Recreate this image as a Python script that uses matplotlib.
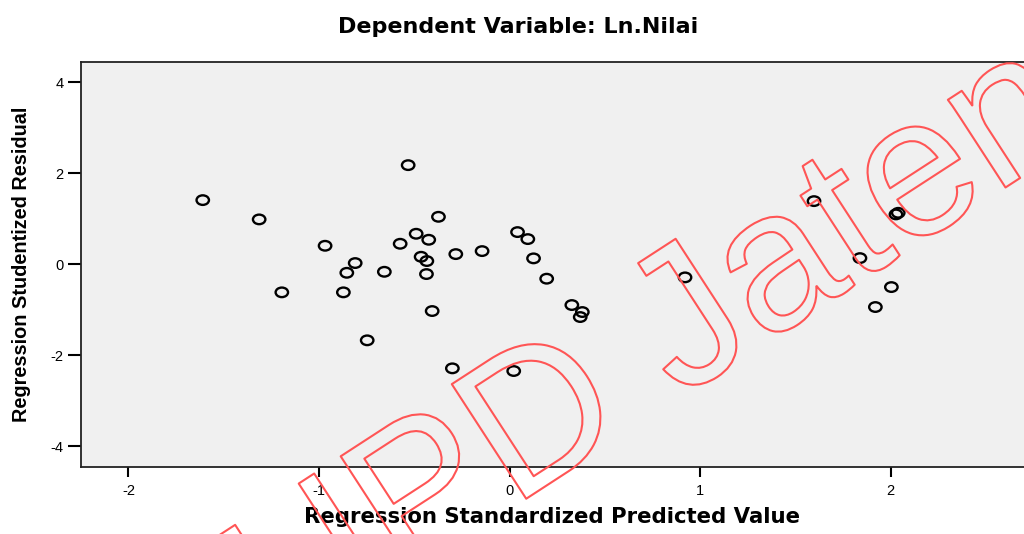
import numpy as np
import matplotlib
matplotlib.use("Agg")
import matplotlib.pyplot as plt
import matplotlib.patheffects as pe
from matplotlib.path import Path
from matplotlib.transforms import Affine2D

# Regression standardized predicted value (x) vs studentized residual (y)
pred = [-1.610, -1.314, -1.195, -0.968, -0.810, -0.854, -0.872, -0.657, -0.747,
        -0.532, -0.574, -0.490, -0.373, -0.424, -0.464, -0.434, -0.436, -0.406,
        -0.282, -0.144, -0.300, 0.022, 0.042, 0.096, 0.126, 0.195, 0.327,
        0.382, 0.371, 0.921, 1.598, 1.839, 2.004, 1.920, 2.028, 2.040]
resid = [1.413, 0.989, -0.615, 0.409, 0.029, -0.185, -0.615, -0.163, -1.670,
         2.182, 0.453, 0.673, 1.046, 0.541, 0.167, 0.073, -0.213, -1.026,
         0.226, 0.292, -2.286, -2.345, 0.710, 0.556, 0.132, -0.315, -0.894,
         -1.048, -1.158, -0.286, 1.391, 0.138, -0.499, -0.938, 1.099, 1.134]

x_ticks = [-2, -1, 0, 1, 2]
y_ticks = [-4, -2, 0, 2, 4]

plt.rcParams['font.family'] = ['Liberation Sans', 'DejaVu Sans']
plt.rcParams['axes.unicode_minus'] = False

fig = plt.figure(figsize=(10.24, 5.34), dpi=100)
ax = fig.add_axes([0.0791, 0.1255, 0.9209, 0.7584])
ax.set_facecolor('#f0f0f0')

# slightly wide open circle, like the SPSS output
ellipse = Path.unit_circle().transformed(Affine2D().scale(1.3, 1.0))
ax.scatter(pred, resid, marker=ellipse, s=80, facecolors='none',
           edgecolors='black', linewidths=1.7, zorder=3)

ax.set_xlim(-2.249, 2.70)
ax.set_ylim(-4.455, 4.45)
ax.set_xticks(x_ticks)
ax.set_yticks(y_ticks)
ax.tick_params(axis='x', length=7.5, width=1.5, labelsize=10.5, pad=5)
ax.tick_params(axis='y', length=9.5, width=1.5, labelsize=10.5, pad=3)
for s in ['left', 'bottom', 'top']:
    ax.spines[s].set_linewidth(1.3)
    ax.spines[s].set_color('#222222')
ax.spines['right'].set_visible(False)

ax.set_xlabel('Regression Standardized Predicted Value', fontsize=15.3,
              fontweight='bold', family='DejaVu Sans', labelpad=6)
ax.set_ylabel('Regression Studentized Residual', fontsize=14.3,
              fontweight='bold', labelpad=14)
fig.text(0.506, 0.949, 'Dependent Variable: Ln.Nilai', ha='center',
         va='center', fontsize=16, fontweight='bold', family='DejaVu Sans')

# watermark
fig.text(0.713, 0.314, 'UPD Jateng', ha='center', va='baseline',
         rotation=33, rotation_mode='anchor', fontsize=143, color='none',
         zorder=10,
         path_effects=[pe.Stroke(linewidth=1.5, foreground='#ff5555')])

fig.savefig('out.png', dpi=100)
